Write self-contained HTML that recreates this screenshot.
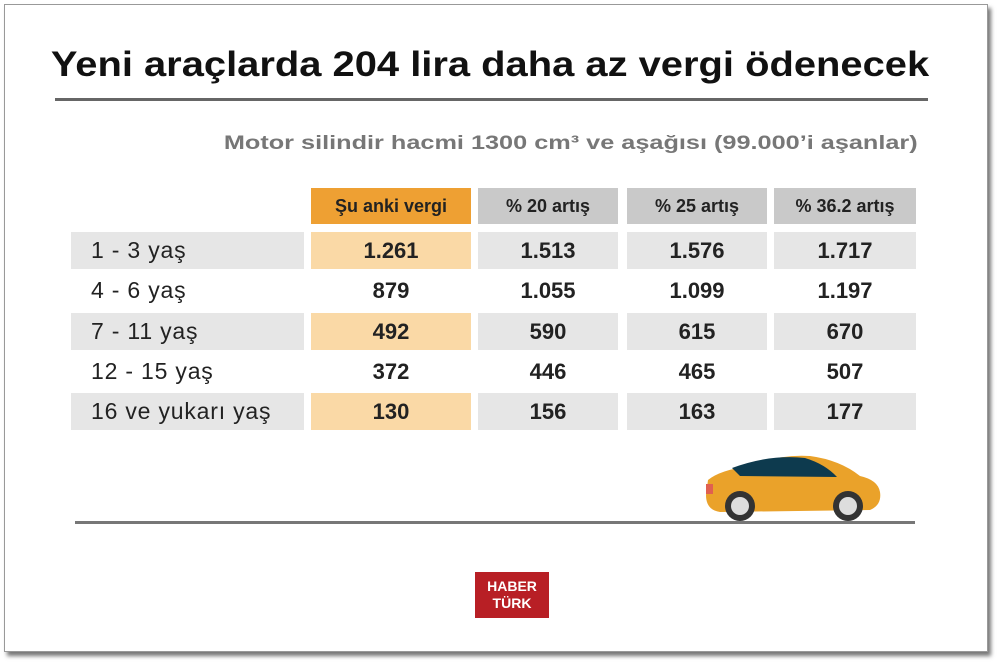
<!DOCTYPE html>
<html><head><meta charset="utf-8"><style>
body{margin:0;width:1000px;height:664px;background:#fff;font-family:"Liberation Sans",sans-serif;overflow:hidden;position:relative}
.frame{position:absolute;left:4px;top:4px;width:982px;height:646px;border:1px solid #999;box-shadow:3px 4px 4px #777;background:#fff}
.abs{position:absolute}
.cell{position:absolute;height:37px;line-height:37px;font-weight:bold;font-size:22px;color:#222;text-align:center}
</style></head><body>
<div class="frame"></div>
<div class="abs" style="left:-10px;width:1000px;top:45px;text-align:center;font-size:35px;font-weight:bold;color:#111;transform:scaleX(1.14);transform-origin:500px 0">Yeni araçlarda 204 lira daha az vergi ödenecek</div>
<div class="abs" style="left:55px;top:98px;width:873px;height:3px;background:#666"></div>
<div class="abs" style="right:82px;top:133px;font-size:19px;font-weight:bold;color:#777;transform:scaleX(1.33);transform-origin:right 0">Motor silindir hacmi 1300 cm³ ve aşağısı (99.000’i aşanlar)</div>
<div id="tbl"></div>
<div class="abs" style="left:75px;top:521px;width:840px;height:3px;background:#777"></div>
<svg class="abs" style="left:700px;top:450px" width="190" height="75" viewBox="0 0 190 75">
<path d="M8 30 Q20 20 50 16 Q80 4 110 6 Q140 10 160 26 Q178 30 180 42 Q182 55 170 60 L20 62 Q6 60 6 45 Z" fill="#eaa22a"/>
<path d="M32 18 Q70 4 105 8 Q125 14 137 27 L40 26 Z" fill="#0d3a4e"/>
<rect x="6" y="34" width="7" height="10" fill="#e06050"/>
<circle cx="40" cy="56" r="15" fill="#333"/><circle cx="40" cy="56" r="9" fill="#ddd"/>
<circle cx="148" cy="56" r="15" fill="#333"/><circle cx="148" cy="56" r="9" fill="#ddd"/>
</svg>
<div class="abs" style="left:475px;top:572px;width:74px;height:46px;background:#b81f25;color:#fff;font-weight:bold;font-size:14px;line-height:17px;text-align:center;padding-top:6px;box-sizing:border-box">HABER<br>TÜRK</div>
<script>
const headers=["Şu anki vergi","% 20 artış","% 25 artış","% 36.2 artış"];
const rowLabels=["1 - 3 yaş","4 - 6 yaş","7 - 11 yaş","12 - 15 yaş","16 ve yukarı yaş"];
const current=["1.261","879","492","372","130"];
const inc20=["1.513","1.055","590","446","156"];
const inc25=["1.576","1.099","615","465","163"];
const inc362=["1.717","1.197","670","507","177"];
const cols=[current,inc20,inc25,inc362];
const colX=[311,478,627,774],colW=[160,140,140,142];
const tbl=document.getElementById('tbl');
function mk(cls,l,t,w,txt,bg,extra){const d=document.createElement('div');d.className=cls;d.style.left=l+'px';d.style.top=t+'px';d.style.width=w+'px';if(bg)d.style.background=bg;d.textContent=txt;if(extra)Object.assign(d.style,extra);tbl.appendChild(d);return d;}
headers.forEach((h,i)=>{const d=mk('cell',colX[i],188,colW[i],h,i==0?'#eea033':'#c9c9c9',{fontSize:'18px',height:'36px',lineHeight:'36px'});

});
const rowY=[232,272,313,353,393];
rowLabels.forEach((lab,r)=>{const shaded=r%2==0;
const l=mk('cell',71,rowY[r],233,lab,shaded?'#e6e6e6':null,{textAlign:'left',paddingLeft:'20px',boxSizing:'border-box',fontWeight:'normal',fontSize:'23px',letterSpacing:'0.8px'});


cols.forEach((c,i)=>{const d=mk('cell',colX[i],rowY[r],colW[i],c[r],shaded?(i==0?'#fad9a6':'#e6e6e6'):null);

});});
</script>
</body></html>
